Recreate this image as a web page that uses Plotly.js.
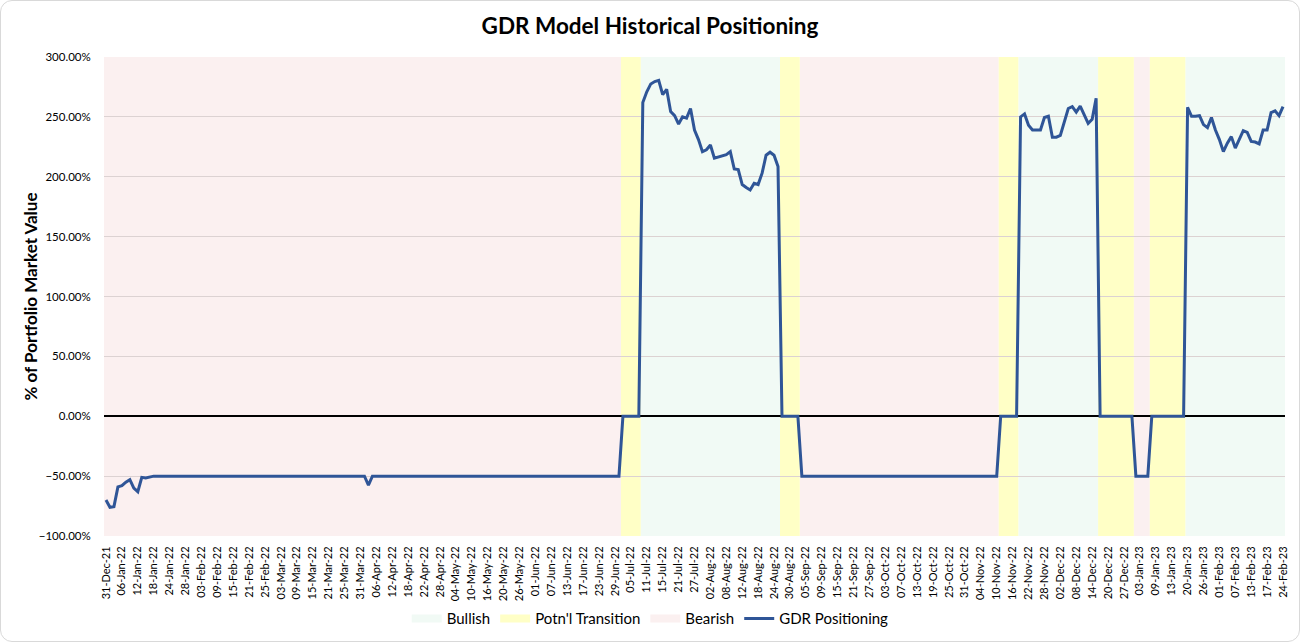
<!DOCTYPE html>
<html>
<head>
<meta charset="utf-8">
<script src="https://cdn.plot.ly/plotly-3.0.1.min.js"></script>
<style>
  html, body { margin: 0; padding: 0; background: #fff; }
  #wrap { position: relative; width: 1300px; height: 642px; }
  #chart { width: 1300px; height: 642px; }
  #frame { position: absolute; left: 0; top: 0; width: 1300px; height: 642px; box-sizing: border-box;
           border: 1px solid #d9d9d9; border-radius: 12px; pointer-events: none; }
</style>
</head>
<body>
<div id="wrap"><div id="chart"></div><div id="frame"></div></div>
<script>
// ---- Data ----
const tickLabels = [
  '31-Dec-21','06-Jan-22','12-Jan-22','18-Jan-22','24-Jan-22','28-Jan-22','03-Feb-22','09-Feb-22','15-Feb-22','21-Feb-22',
  '25-Feb-22','03-Mar-22','09-Mar-22','15-Mar-22','21-Mar-22','25-Mar-22','31-Mar-22','06-Apr-22','12-Apr-22','18-Apr-22',
  '22-Apr-22','28-Apr-22','04-May-22','10-May-22','16-May-22','20-May-22','26-May-22','01-Jun-22','07-Jun-22','13-Jun-22',
  '17-Jun-22','23-Jun-22','29-Jun-22','05-Jul-22','11-Jul-22','15-Jul-22','21-Jul-22','27-Jul-22','02-Aug-22','08-Aug-22',
  '12-Aug-22','18-Aug-22','24-Aug-22','30-Aug-22','05-Sep-22','09-Sep-22','15-Sep-22','21-Sep-22','27-Sep-22','03-Oct-22',
  '07-Oct-22','13-Oct-22','19-Oct-22','25-Oct-22','31-Oct-22','04-Nov-22','10-Nov-22','16-Nov-22','22-Nov-22','28-Nov-22',
  '02-Dec-22','08-Dec-22','14-Dec-22','20-Dec-22','27-Dec-22','03-Jan-23','09-Jan-23','13-Jan-23','20-Jan-23','26-Jan-23',
  '01-Feb-23','07-Feb-23','13-Feb-23','17-Feb-23','24-Feb-23'
];

// days without data (besides weekends)
const skippedDays = ['2022-12-26','2023-01-02','2023-01-16','2023-02-20'];

const posDates = [
  '2021-12-31','2022-01-03','2022-01-04','2022-01-05','2022-01-06','2022-01-07','2022-01-10','2022-01-11','2022-01-12','2022-01-13',
  '2022-01-14','2022-01-17','2022-01-18',
  '2022-04-01','2022-04-04','2022-04-05',
  '2022-06-30','2022-07-01','2022-07-07',
  '2022-07-08','2022-07-11','2022-07-12','2022-07-13','2022-07-14','2022-07-15','2022-07-18','2022-07-19','2022-07-20','2022-07-21',
  '2022-07-22','2022-07-25','2022-07-26','2022-07-27','2022-07-28','2022-07-29','2022-08-01','2022-08-02','2022-08-03','2022-08-04',
  '2022-08-05','2022-08-08','2022-08-09','2022-08-10','2022-08-11','2022-08-12','2022-08-15','2022-08-16','2022-08-17','2022-08-18',
  '2022-08-19','2022-08-22','2022-08-23','2022-08-24','2022-08-25',
  '2022-08-26','2022-09-01','2022-09-02',
  '2022-11-10','2022-11-11','2022-11-17',
  '2022-11-18','2022-11-21','2022-11-22','2022-11-23','2022-11-24','2022-11-25','2022-11-28','2022-11-29','2022-11-30','2022-12-01',
  '2022-12-02','2022-12-05','2022-12-06','2022-12-07','2022-12-08','2022-12-09','2022-12-12','2022-12-13','2022-12-14','2022-12-15',
  '2022-12-16','2022-12-29','2022-12-30','2023-01-05','2023-01-06','2023-01-19',
  '2023-01-20','2023-01-23','2023-01-24','2023-01-25','2023-01-26','2023-01-27','2023-01-30','2023-01-31','2023-02-01','2023-02-02',
  '2023-02-03','2023-02-06','2023-02-07','2023-02-08','2023-02-09','2023-02-10','2023-02-13','2023-02-14','2023-02-15','2023-02-16',
  '2023-02-17','2023-02-21','2023-02-22','2023-02-23','2023-02-24'
];
const posValues = [
  -70,-76,-75.5,-59,-58,-55,-53,-60,-63,-51,
  -51.5,-51,-50,
  -50,-57.5,-50,
  -50,0,0,
  262,271,277.5,279.5,280.5,268.5,273,254.5,251,244,
  250,249,257,239,231,221,222.5,226.5,215.5,216.5,
  217.5,218.5,221,206.5,206,193.5,191,189,194.5,193.5,
  203,218,220.5,218,208.5,
  0,0,-50,
  -50,0,0,
  250,252.5,243,239,239,239,249.5,250.5,233,233,
  234.5,245,257,258.5,254,259,251.5,244.5,248,265.5,
  0,0,-50,-50,0,0,
  258,250.5,250.5,251,243.5,241,249.5,239,231,221,
  228,233.5,224,231.5,238.5,237,229.5,229,227.5,239,
  239,253.5,255,251,258.5
];

// regime bands (edges halfway between trading days)
const regimeStart = ['2021-12-30 12:00','2022-06-30 12:00','2022-07-07 12:00','2022-08-25 12:00','2022-09-01 12:00','2022-11-10 12:00',
                     '2022-11-17 12:00','2022-12-15 12:00','2022-12-29 12:00','2023-01-05 12:00','2023-01-19 12:00'];
const regimeEnd   = ['2022-06-30 12:00','2022-07-07 12:00','2022-08-25 12:00','2022-09-01 12:00','2022-11-10 12:00','2022-11-17 12:00',
                     '2022-12-15 12:00','2022-12-29 12:00','2023-01-05 12:00','2023-01-19 12:00','2023-02-24 12:00'];
const regimeType  = ['Bearish',"Potn'l Transition",'Bullish',"Potn'l Transition",'Bearish',"Potn'l Transition",
                     'Bullish',"Potn'l Transition",'Bearish',"Potn'l Transition",'Bullish'];

const regimeNames = ['Bullish', "Potn'l Transition", 'Bearish'];
const regimeColors = { 'Bullish': '#F1FAF5', "Potn'l Transition": '#FFFFC6', 'Bearish': '#FBF0F0' };

// ---- Build ----
const months = {Jan:'01',Feb:'02',Mar:'03',Apr:'04',May:'05',Jun:'06',Jul:'07',Aug:'08',Sep:'09',Oct:'10',Nov:'11',Dec:'12'};
const tickVals = tickLabels.map(s => { const p = s.split('-'); return '20' + p[2] + '-' + months[p[1]] + '-' + p[0]; });

const FONT = 'Lato, Carlito, "Open Sans", sans-serif';

const shapes = regimeType.map((t, i) => ({
  type: 'rect', xref: 'x', yref: 'paper', x0: regimeStart[i], x1: regimeEnd[i], y0: 0, y1: 1,
  fillcolor: regimeColors[t], line: { width: 0 }, layer: 'below'
}));

const traces = regimeNames.map(n => ({
  type: 'scatter', mode: 'lines', x: [null], y: [null], name: n,
  line: { color: regimeColors[n], width: 8 }, hoverinfo: 'skip'
}));
traces.push({
  type: 'scatter', mode: 'lines', x: posDates, y: posValues, name: 'GDR Positioning',
  line: { color: '#2F5597', width: 3 }
});

const layout = {
  width: 1300, height: 642,
  margin: { l: 104, r: 15, t: 57, b: 106, autoexpand: false },
  paper_bgcolor: '#ffffff', plot_bgcolor: '#ffffff',
  font: { family: FONT, color: '#000' },
  title: { text: 'GDR Model Historical Positioning', x: 0.5, xref: 'container', xanchor: 'center',
           y: 0.96, yref: 'container', yanchor: 'middle',
           font: { family: FONT, size: 22.5, weight: 700, color: '#000' } },
  xaxis: {
    type: 'date', automargin: false,
    range: ['2021-12-30 12:00', '2023-02-24 12:00'],
    rangebreaks: [{ bounds: ['sat', 'mon'] }, { values: skippedDays }],
    tickmode: 'array', tickvals: tickVals, ticktext: tickLabels,
    tickangle: -90, tickfont: { family: FONT, size: 11, color: '#000' },
    showgrid: false, zeroline: false, showline: false, ticks: 'outside', ticklen: 5, tickcolor: 'rgba(0,0,0,0)'
  },
  yaxis: {
    range: [-100, 300], dtick: 50, tick0: 0, automargin: false,
    tickformat: '.2f', ticksuffix: '%',
    tickfont: { family: FONT, size: 11.5, color: '#000' },
    gridcolor: '#dcd2d2', gridwidth: 1,
    zeroline: true, zerolinecolor: '#000000', zerolinewidth: 2,
    showline: false, ticks: 'outside', ticklen: 10, tickcolor: 'rgba(0,0,0,0)'
  },
  annotations: [{
    text: '% of Portfolio Market Value', xref: 'paper', yref: 'paper',
    x: (30 - 104) / 1181, y: 0.5, xanchor: 'center', yanchor: 'middle', textangle: -90,
    showarrow: false, font: { family: FONT, size: 17, weight: 700, color: '#000' }
  }],
  showlegend: true,
  legend: { orientation: 'h', x: 0.4625, xanchor: 'center', y: -0.173, yanchor: 'middle',
            font: { family: FONT, size: 15, color: '#000' }, traceorder: 'normal', itemwidth: 30 },
  shapes: shapes
};

Plotly.newPlot('chart', traces, layout, { displayModeBar: false, staticPlot: true });
</script>
</body>
</html>
